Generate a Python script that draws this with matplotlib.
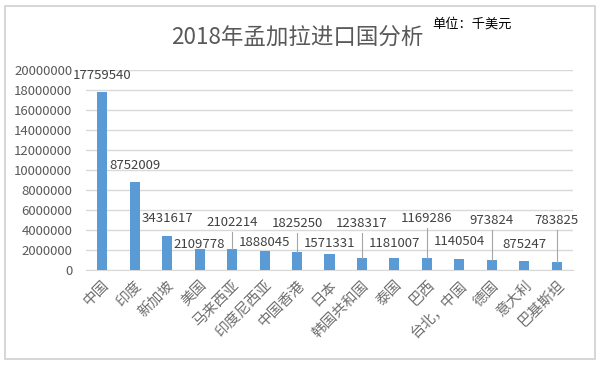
import numpy as np
import matplotlib.pyplot as plt
from matplotlib.patches import Rectangle

plt.rcParams['font.family'] = ['Noto Sans CJK SC', 'DejaVu Sans']

countries = ["中国", "印度", "新加坡", "美国", "马来西亚", "印度尼西亚", "中国香港", "日本",
             "韩国共和国", "泰国", "巴西", "台北，中国", "德国", "意大利", "巴基斯坦"]
imports = [17759540, 8752009, 3431617, 2109778, 2102214, 1888045, 1825250, 1571331,
           1238317, 1181007, 1169286, 1140504, 973824, 875247, 783825]
y_ticks = list(range(0, 20000001, 2000000))

# where each data label sits (data units) and whether it gets a leader line
label_y = [19.5e6, 10.5e6, 5.2e6, 2.6e6, 4.8e6, 2.8e6, 4.7e6, 2.7e6,
           4.7e6, 2.7e6, 5.2e6, 2.9e6, 5.0e6, 2.6e6, 5.0e6]
leader = [False, False, False, False, True, False, True, False,
          True, False, True, False, True, False, True]

fig = plt.figure(figsize=(5.99, 3.66), dpi=100)
fig.patches.append(Rectangle((5 / 599, 1 - 359 / 366), 590 / 599, 353 / 366,
                             transform=fig.transFigure, fill=False,
                             edgecolor="#d0d0d0", linewidth=1.2))

ax = fig.add_axes([0.1436, 0.2623, 0.813, 0.5464])
x = np.arange(len(countries))
ax.bar(x, imports, width=0.31, color="#5b9bd5", zorder=3)

ax.set_xlim(-0.5, len(countries) - 0.5)
ax.set_ylim(0, 20000000)
ax.set_yticks(y_ticks)
ax.set_yticklabels([str(v) for v in y_ticks], fontsize=9.5, color="#595959")
ax.set_xticks(x)
ax.set_xticklabels(countries, rotation=45, ha="right", va="top", rotation_mode="anchor",
                   fontsize=10.5, color="#6f6f6f")
ax.tick_params(axis="both", length=0)
ax.tick_params(axis="y", pad=10)
ax.tick_params(axis="x", pad=6)
ax.grid(axis="y", color="#d9d9d9", linewidth=1, zorder=0)
for s in ["left", "right", "top"]:
    ax.spines[s].set_visible(False)
ax.spines["bottom"].set_color("#d9d9d9")

for i, (v, ly, ld) in enumerate(zip(imports, label_y, leader)):
    ax.text(i, ly, str(v), ha="center", va="center", fontsize=9.5, color="#404040", zorder=4)
    if ld:
        ax.plot([i, i], [ly - 1.0e6, v], color="#a6a6a6", linewidth=0.8, zorder=4)

fig.text(0.497, 0.895, "2018年孟加拉进口国分析", ha="center", va="center",
         fontsize=16.2, color="#595959")
fig.text(0.722, 0.935, "单位：千美元", ha="left", va="center", fontsize=9.5, color="#000000")

fig.savefig("out.png", dpi=100)
